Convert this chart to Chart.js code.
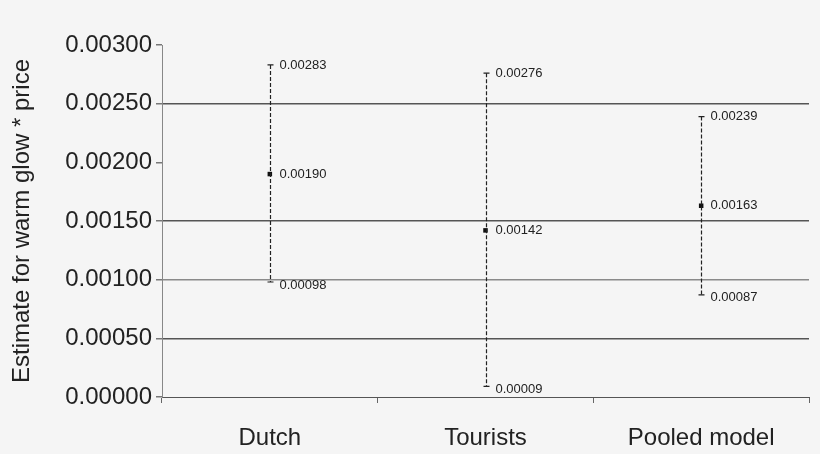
<!DOCTYPE html>
<html>
<head>
<meta charset="utf-8">
<script src="https://cdn.jsdelivr.net/npm/chart.js"></script>
<style>
  html, body { margin: 0; padding: 0; background: #f5f5f5; }
  #wrap { width: 820px; height: 454px; }
</style>
</head>
<body>
<div id="wrap"><canvas id="myChart"></canvas></div>
<script>
// Data for the chart
const groups = ['Dutch', 'Tourists', 'Pooled model'];
const estimates = [0.00190, 0.00142, 0.00163];
const lower = [0.00098, 0.00009, 0.00087];
const upper = [0.00283, 0.00276, 0.00239];
const yTicks = [0, 0.0005, 0.001, 0.0015, 0.002, 0.0025, 0.003];

const FONT = '"Liberation Sans", Arial, sans-serif';

// gridline look per tick (the scan shows some lines darker, some missing)
function gridColor(ctx) {
  const v = ctx.tick ? ctx.tick.value : null;
  if (v === null) return 'transparent';
  const k = Math.round(v * 10000);
  if (k === 5 || k === 15 || k === 25) return '#555';
  if (k === 10) return '#8a8a8a';
  return 'transparent';
}

// draws the dashed whiskers, caps and value labels
const errorBars = {
  id: 'errorBars',
  afterDatasetsDraw(chart) {
    const ctx = chart.ctx;
    const x = chart.scales.x, y = chart.scales.y;
    ctx.save();
    groups.forEach((g, i) => {
      const px = Math.round(x.getPixelForValue(i)) + 0.5;
      const yl = y.getPixelForValue(lower[i]);
      const yh = y.getPixelForValue(upper[i]);
      const ye = y.getPixelForValue(estimates[i]);
      ctx.strokeStyle = '#222';
      ctx.lineWidth = 1.2;
      ctx.setLineDash([4, 2]);
      ctx.beginPath();
      ctx.moveTo(px, yh);
      ctx.lineTo(px, yl);
      ctx.stroke();
      ctx.setLineDash([]);
      ctx.beginPath();
      ctx.moveTo(px - 3, yh); ctx.lineTo(px + 3, yh);
      ctx.moveTo(px - 3, yl); ctx.lineTo(px + 3, yl);
      ctx.stroke();
      ctx.fillStyle = '#222';
      ctx.font = '13px ' + FONT;
      ctx.textBaseline = 'middle';
      ctx.textAlign = 'left';
      ctx.fillText(upper[i].toFixed(5), px + 9, yh);
      ctx.fillText(estimates[i].toFixed(5), px + 9, ye);
      ctx.fillText(lower[i].toFixed(5), px + 9, yl + 3);
    });
    ctx.restore();
  }
};

const config = {
  type: 'scatter',
  data: {
    labels: groups,
    datasets: [{
      label: 'Estimate',
      data: estimates.map((v, i) => ({ x: i, y: v })),
      pointStyle: 'rect',
      pointRadius: 3.2,
      backgroundColor: '#111',
      borderColor: '#111',
      borderWidth: 0
    }]
  },
  options: {
    responsive: true,
    maintainAspectRatio: false,
    animation: false,
    layout: { padding: { top: 45, right: 11, bottom: 0, left: 0 } },
    plugins: {
      legend: { display: false },
      tooltip: { enabled: false }
    },
    scales: {
      x: {
        type: 'category',
        labels: groups,
        offset: true,
        afterFit(axis) { axis.height = 57; },
        grid: {
          offset: true,
          drawOnChartArea: false,
          drawTicks: true,
          tickLength: 6,
          color: '#666'
        },
        border: { color: '#555', width: 1 },
        ticks: {
          color: '#222',
          font: { family: FONT, size: 24 },
          padding: 21
        }
      },
      y: {
        min: 0,
        max: 0.003,
        afterBuildTicks(axis) { axis.ticks = yTicks.map(v => ({ value: v })); },
        afterFit(axis) { axis.width = 162; },
        grid: {
          color: gridColor,
          lineWidth: 1.5,
          drawTicks: true,
          tickLength: 6,
          tickColor: '#777'
        },
        border: { color: '#888', width: 1 },
        ticks: {
          color: '#222',
          font: { family: FONT, size: 24 },
          padding: 4,
          callback: v => Number(v).toFixed(5)
        },
        title: {
          display: true,
          text: 'Estimate for warm glow * price',
          color: '#222',
          font: { family: FONT, size: 24 },
          padding: { top: 8, bottom: 10 }
        }
      }
    }
  },
  plugins: [errorBars]
};

const myChart = new Chart(document.getElementById('myChart'), config);
</script>
</body>
</html>
